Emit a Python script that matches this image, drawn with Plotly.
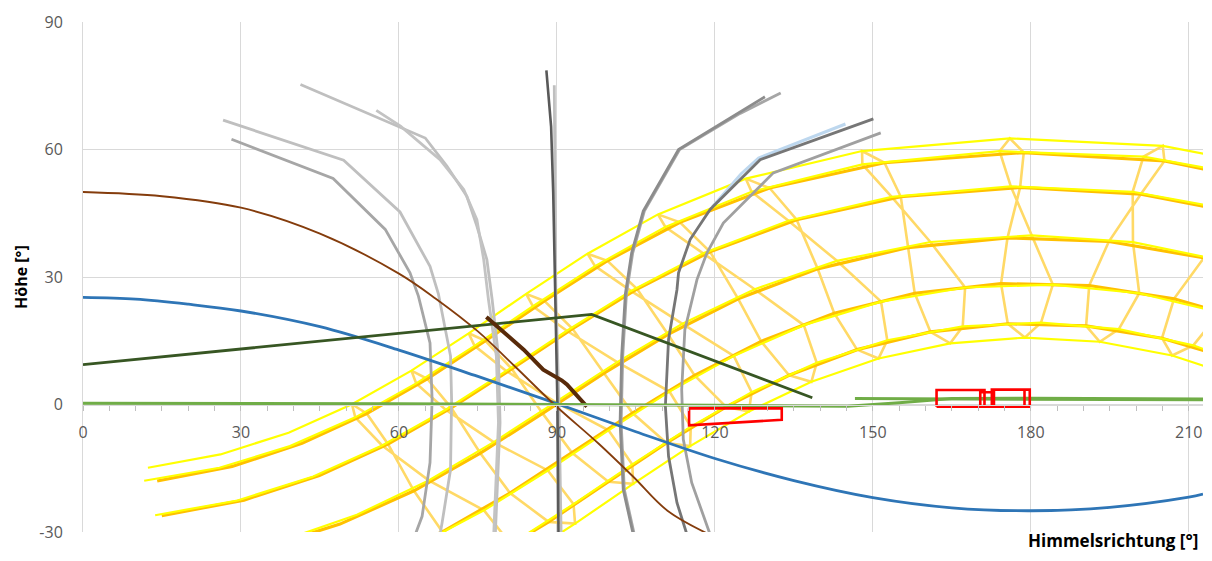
import plotly.graph_objects as go

# ---------------- axes ----------------
x_tick_vals = [0, 30, 60, 90, 120, 150, 180, 210]
y_tick_vals = [-30, 0, 30, 60, 90]
y_tick_text = ["-30", "0", "30", "60", "90"]
x_label = "Himmelsrichtung [°]"
y_label = "Höhe [°]"

# ---------------- sun path (hourly positions, 21st of each month) ----------------
# first hour (clock time) of each list, azimuth [°], altitude [°]
jan_h0 = 4
jan_az = [75.94, 88.42, 99.78, 110.82, 122.12, 134.09, 147.00, 160.95, 175.63, 190.50, 204.92, 218.45]
jan_alt = [-36.98, -27.61, -18.17, -9.04, -0.56, 6.89, 12.91, 17.07, 19.00, 18.49, 15.60, 10.62]

feb_h0 = 3
feb_az = [53.44, 68.25, 81.09, 92.88, 104.36, 116.15, 128.78, 142.66, 157.95, 174.35, 191.09, 207.19, 222.03]
feb_alt = [-38.24, -29.96, -20.83, -11.38, -2.02, 6.86, 14.85, 21.47, 26.17, 28.44, 27.99, 24.87, 19.49]

mar_h0 = 2
mar_az = [32.80, 48.80, 62.85, 75.46, 87.28, 98.95, 111.11, 124.43, 139.52, 156.70, 175.57, 194.82, 212.88, 228.92]
mar_alt = [-34.33, -28.14, -20.30, -11.45, -2.09, 7.36, 16.49, 24.87, 31.92, 36.93, 39.21, 38.35, 34.51, 28.30]

apr_h0 = 1
apr_az = [14.96, 30.57, 44.89, 57.91, 69.93, 81.43, 92.97, 105.24, 119.09, 135.53, 155.31, 177.97, 200.91, 221.30]
apr_alt = [-26.17, -22.49, -16.70, -9.29, -0.79, 8.38, 17.83, 27.18, 35.95, 43.49, 48.88, 51.08, 49.51, 44.60]

may_h0 = 1
may_az = [14.09, 28.32, 41.59, 53.88, 65.37, 76.44, 87.62, 99.60, 113.37, 130.39, 152.21, 178.66, 205.38, 227.71]
may_alt = [-17.99, -14.57, -9.14, -2.12, 6.05, 15.00, 24.37, 33.82, 42.88, 50.94, 56.88, 59.28, 57.30, 51.63]

jun_h0 = 1
jun_az = [12.33, 26.10, 39.05, 51.08, 62.37, 73.24, 84.16, 95.81, 109.19, 125.87, 147.95, 176.01, 205.06, 228.86]
jun_alt = [-14.88, -11.75, -6.65, 0.06, 7.97, 16.75, 26.03, 35.49, 44.73, 53.14, 59.64, 62.62, 60.86, 55.12]

jul_h0 = 1
jul_az = [11.62, 25.92, 39.31, 51.71, 63.28, 74.36, 85.45, 97.23, 110.60, 126.97, 148.01, 174.07, 201.39, 224.72]
jul_alt = [-17.95, -14.89, -9.79, -3.03, 4.96, 13.79, 23.11, 32.57, 41.76, 50.06, 56.49, 59.60, 58.31, 53.11]

aug_h0 = 1
aug_az = [13.70, 29.34, 43.73, 56.80, 68.88, 80.38, 91.89, 104.07, 117.76, 133.97, 153.58, 176.20, 199.35, 220.06]
aug_alt = [-26.05, -22.58, -16.93, -9.65, -1.22, 7.90, 17.35, 26.72, 35.56, 43.23, 48.86, 51.33, 50.05, 45.34]

sep_h0 = 2
sep_az = [36.57, 52.02, 65.65, 78.00, 89.73, 101.45, 113.85, 127.56, 143.18, 160.93, 180.17, 199.40, 217.11]
sep_alt = [-32.58, -25.96, -17.86, -8.86, 0.55, 9.97, 18.99, 27.13, 33.80, 38.24, 39.80, 38.19, 33.69]

oct_h0 = 3
oct_az = [62.63, 76.15, 88.28, 99.80, 111.38, 123.59, 136.89, 151.56, 167.52, 184.18, 200.59, 215.95]
oct_alt = [-33.76, -24.90, -15.52, -6.08, 3.04, 11.44, 18.67, 24.21, 27.53, 28.22, 26.18, 21.68]

nov_h0 = 4
nov_az = [81.27, 93.16, 104.32, 115.42, 126.98, 139.34, 152.74, 167.07, 181.94, 196.72, 210.85, 223.94]
nov_alt = [-32.90, -23.45, -14.10, -5.20, 2.91, 9.81, 15.11, 18.37, 19.27, 17.74, 13.92, 8.16]

dec_h0 = 4
dec_az = [81.54, 93.45, 104.47, 115.30, 126.47, 138.33, 151.08, 164.69, 178.88, 193.10, 206.84, 219.73]
dec_alt = [-37.48, -28.03, -18.68, -9.78, -1.64, 5.35, 10.83, 14.39, 15.75, 14.76, 11.53, 6.32]

analemma_hours = [4, 5, 6, 7, 8, 9, 10, 11, 12, 13, 14]

# ---------------- horizon / other curves ----------------
blue_x = [0, 10, 20, 30, 45, 60, 75, 90, 105, 120, 135, 150, 165, 180, 195, 210, 212.7]
blue_y = [25.2, 24.8, 23.6, 22.0, 18.3, 12.8, 6.6, 0.2, -6.4, -12.7, -17.9, -21.9, -24.3, -25.0, -24.2, -21.8, -21.1]

brown_x = [0, 15, 30, 45, 60, 67, 75, 82, 89.5, 98, 104.5, 111, 118.8]
brown_y = [50.0, 49.0, 46.3, 40.2, 30.8, 24.9, 17.2, 9.0, 0.0, -9.3, -17.0, -25.0, -30.5]

dkgreen_x = [0, 96.6, 138.5]
dkgreen_y = [9.4, 21.2, 1.6]

dkbrown_x = [76.6, 80.0, 83.7, 87.4, 90.9, 91.9, 95.7]
dkbrown_y = [20.6, 17.0, 12.9, 8.2, 5.7, 4.7, -0.5]

green1_x = [0, 60, 120, 145.2, 155, 165, 180, 212.7]
green1_y = [0.3, 0.2, -0.2, -0.4, 0.4, 1.4, 1.5, 1.3]
green2_x = [146.6, 212.7]
green2_y = [1.4, 1.1]

# grey obstruction outlines
gl1_x = [41.3, 65.0, 69.1, 72.9, 74.8, 76.7, 77.7, 78.9, 79.2, 78.6, 78.3]
gl1_y = [75.3, 62.7, 56.1, 49.0, 42.0, 34.1, 24.7, 11.4, -4.3, -21.6, -30.6]
gl2_x = [55.7, 60.3, 67.8, 72.3, 74.8, 76.1, 77.0, 78.5, 78.9, 78.3, 78.0]
gl2_y = [69.2, 65.5, 57.6, 50.6, 43.5, 34.1, 24.7, 11.4, -4.3, -21.6, -30.6]
gl3_x = [26.6, 49.5, 60.2, 65.9, 67.5, 69.8, 70.0, 69.8, 68.2, 67.8]
gl3_y = [66.9, 57.5, 45.3, 32.5, 26.0, 11.4, 1.2, -15.3, -27.8, -30.6]
gl4_x = [28.2, 47.5, 57.4, 62.1, 63.7, 65.9, 66.3, 65.9, 64.4, 63.1]
gl4_y = [62.4, 53.2, 41.2, 31.0, 25.5, 14.5, 1.2, -13.7, -26.3, -30.6]
gd1_x = [88.0, 88.9, 89.3, 89.7, 90.1, 90.3]
gd1_y = [78.6, 65.4, 49.8, 26.1, 0.0, -30.6]
gl5_x = [89.5, 89.8, 90.4, 90.8]
gl5_y = [75.1, 26.0, 0.0, -30.6]
gr1_x = [129.5, 113.1, 106.4, 104.2, 103.0, 102.3, 102.0, 102.6, 104.5]
gr1_y = [72.4, 60.0, 45.5, 35.7, 26.0, 11.4, -4.3, -20.0, -30.6]
gr1b_x = [132.5, 124.8, 113.3, 106.6, 104.4, 103.2, 102.5, 102.2, 102.8, 104.7]
gr1b_y = [73.3, 68.5, 60.0, 45.5, 35.7, 26.0, 11.4, -4.3, -20.0, -30.6]
gr2_x = [150.1, 128.6, 119.1, 115.3, 113.1, 112.8, 111.2, 110.6, 111.2, 112.8, 114.7]
gr2_y = [67.2, 57.6, 45.9, 38.8, 31.0, 27.0, 15.3, -0.4, -12.2, -23.1, -30.6]
gr3_x = [151.5, 131.1, 121.6, 118.5, 116.6, 115.9, 114.3, 113.7, 114.0, 115.6, 119.1]
gr3_y = [63.9, 54.5, 42.7, 35.7, 29.4, 26.0, 17.6, 3.5, -8.2, -18.4, -30.6]
lblue_x = [144.8, 128.3, 125.0, 119.5]
lblue_y = [66.0, 58.0, 54.3, 46.5]

# red outlines (closed polygons)
red1_x = [115.1, 132.7, 132.7, 115.1, 115.1]
red1_y = [-0.9, -0.9, -3.6, -4.9, -0.9]
red2_x = [162.1, 171.2, 171.2, 162.1, 162.1]
red2_y = [-0.5, -0.5, 3.4, 3.4, -0.5]
red3_x = [170.4, 173.0, 173.0, 170.4, 170.4]
red3_y = [-0.5, -0.5, 2.9, 2.9, -0.5]
red4_x = [172.6, 179.8, 179.8, 172.6, 172.6]
red4_y = [-0.5, -0.5, 3.5, 3.5, -0.5]
red5_x = [178.8, 178.8]
red5_y = [-0.5, 3.4]

# ---------------- figure ----------------
fig = go.Figure()

months = [
    (jan_h0, jan_az, jan_alt, "gold"), (feb_h0, feb_az, feb_alt, "gold"),
    (mar_h0, mar_az, mar_alt, "gold"), (apr_h0, apr_az, apr_alt, "gold"),
    (may_h0, may_az, may_alt, "gold"), (jun_h0, jun_az, jun_alt, "yellow"),
    (jul_h0, jul_az, jul_alt, "yellow"), (aug_h0, aug_az, aug_alt, "yellow"),
    (sep_h0, sep_az, sep_alt, "yellow"), (oct_h0, oct_az, oct_alt, "yellow"),
    (nov_h0, nov_az, nov_alt, "yellow"), (dec_h0, dec_az, dec_alt, "yellow"),
]


def add_line(x, y, color, width, shape="linear"):
    fig.add_trace(go.Scatter(x=x, y=y, mode="lines",
                             line=dict(color=color, width=width, shape=shape),
                             hoverinfo="skip", showlegend=False))


# analemmas (hour lines)
for h in analemma_hours:
    ax, ay = [], []
    for h0, az, alt, _ in months + months[:1]:
        ax.append(az[h - h0])
        ay.append(alt[h - h0])
    add_line(ax, ay, "#ffd966", 2.6)

# day arcs
for h0, az, alt, kind in months:
    if kind == "gold":
        add_line(az, alt, "#ffc000", 3.2)
for h0, az, alt, kind in months:
    if kind == "yellow":
        add_line(az, alt, "#ffff00", 2.2)

add_line(lblue_x, lblue_y, "#bdd7ee", 3)
add_line(gl3_x, gl3_y, "#bfbfbf", 2.8)
add_line(gl4_x, gl4_y, "#a6a6a6", 2.8)
add_line(gl1_x, gl1_y, "#bfbfbf", 2.8)
add_line(gl2_x, gl2_y, "#c3c3c3", 2.8)
add_line(gl5_x, gl5_y, "#bfbfbf", 2.8)
add_line(gd1_x, gd1_y, "#595959", 2.6)
add_line(gr1b_x, gr1b_y, "#a6a6a6", 2.8)
add_line(gr1_x, gr1_y, "#8c8c8c", 2.8)
add_line(gr3_x, gr3_y, "#a0a0a0", 2.8)
add_line(gr2_x, gr2_y, "#767676", 2.8)

add_line(blue_x, blue_y, "#2e75b6", 2.8, "spline")
add_line(brown_x, brown_y, "#843c0c", 1.8, "spline")
add_line(dkgreen_x, dkgreen_y, "#375623", 2.8)
add_line(dkbrown_x, dkbrown_y, "#582a0a", 4)
add_line(green1_x, green1_y, "#70ad47", 3)
add_line(green2_x, green2_y, "#70ad47", 3)

for rx, ry in [(red1_x, red1_y), (red2_x, red2_y), (red3_x, red3_y), (red4_x, red4_y), (red5_x, red5_y)]:
    add_line(rx, ry, "#ff0000", 2.6)

tick_font = dict(family="Open Sans, sans-serif", size=16, color="#595959")

# the page body has an 8px margin: figure is 16px smaller than the window
fig.update_layout(
    width=1196, height=545,
    margin=dict(l=75, r=1, t=14, b=21),
    plot_bgcolor="white", paper_bgcolor="white",
    showlegend=False,
    xaxis=dict(range=[0, 212.7], tickvals=x_tick_vals, showgrid=True, gridcolor="#d9d9d9",
               gridwidth=1, zeroline=False, anchor="free", position=0.25,
               showline=True, linecolor="#d9d9d9", linewidth=1,
               ticks="outside", ticklen=5, tickcolor="#bfbfbf",
               minor=dict(dtick=5, ticks="outside", ticklen=5, tickcolor="#bfbfbf", showgrid=False),
               tickfont=tick_font, ticklabelstandoff=8),
    yaxis=dict(range=[-30, 90], tickvals=y_tick_vals, ticktext=y_tick_text, showgrid=True,
               gridcolor="#d9d9d9", gridwidth=1, zeroline=False, showline=True, linecolor="#d9d9d9",
               ticks="", tickfont=tick_font, ticklabelstandoff=16),
    annotations=[
        dict(text="<b>" + x_label + "</b>", xref="paper", yref="paper", x=0.9965, y=-0.0412,
             xanchor="right", yanchor="bottom", showarrow=False, borderpad=0,
             font=dict(family="Open Sans, sans-serif", size=17, color="#000000")),
        dict(text="<b>" + y_label + "</b>", xref="paper", yref="paper", x=-0.0554, y=0.50,
             xanchor="center", yanchor="middle", textangle=-90, showarrow=False,
             font=dict(family="Open Sans, sans-serif", size=16, color="#000000")),
    ],
)

fig.write_html("out.html")
